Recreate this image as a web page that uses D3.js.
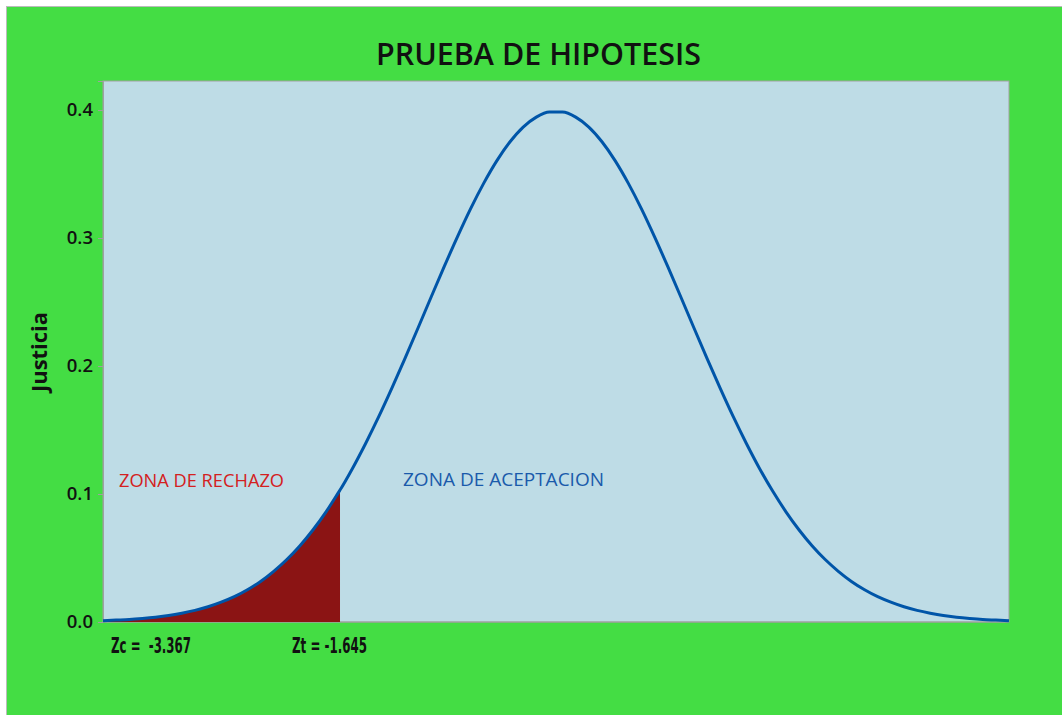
<!DOCTYPE html>
<html><head><meta charset="utf-8">
<script src="https://cdn.jsdelivr.net/npm/d3@7"></script>
<style>body{margin:0;background:#fff}svg{display:block}text{white-space:pre}</style>
</head><body><svg id="c" width="1062" height="715"></svg>
<script>
// Data
const zValues = [-3.45,-3.35,-3.25,-3.15,-3.05,-2.95,-2.85,-2.75,-2.65,-2.55,-2.45,-2.35,-2.25,-2.15,-2.05,-1.95,-1.85,-1.75,-1.65,-1.645,-1.55,-1.45,-1.35,-1.25,-1.15,-1.05,-0.95,-0.85,-0.75,-0.65,-0.55,-0.45,-0.35,-0.25,-0.15,-0.05,
  0.05,0.15,0.25,0.35,0.45,0.55,0.65,0.75,0.85,0.95,1.05,1.15,1.25,1.35,1.45,1.55,1.65,1.75,1.85,1.95,2.05,2.15,2.25,2.35,2.45,2.55,2.65,2.75,2.85,2.95,3.05,3.15,3.25,3.35,3.45];
const densityValues = [0.0010,0.0015,0.0020,0.0028,0.0038,0.0051,0.0069,0.0091,0.0119,0.0155,0.0198,0.0252,0.0317,0.0396,0.0488,0.0596,0.0721,0.0863,0.1023,0.1031,0.1200,0.1395,0.1604,0.1827,0.2060,0.2299,0.2541,0.2780,0.3011,0.3230,0.3429,0.3605,0.3752,0.3867,0.3945,0.3984,
  0.3984,0.3945,0.3867,0.3752,0.3605,0.3429,0.3230,0.3011,0.2780,0.2541,0.2299,0.2060,0.1827,0.1604,0.1395,0.1200,0.1023,0.0863,0.0721,0.0596,0.0488,0.0396,0.0317,0.0252,0.0198,0.0155,0.0119,0.0091,0.0069,0.0051,0.0038,0.0028,0.0020,0.0015,0.0010];
const yTicks = [0.0, 0.1, 0.2, 0.3, 0.4];
const zCritical = -1.645;
const zCalc = -3.367;
const titleText = "PRUEBA DE HIPOTESIS";
const yLabel = "Justicia";
const zoneLabels = ["ZONA DE RECHAZO", "ZONA DE ACEPTACION"];
const zLabels = ["Zc =  -3.367", "Zt = -1.645"];

const data = zValues.map((z, i) => ({z, d: densityValues[i]}));
const svg = d3.select("#c");
const L = 103, R = 1009, T = 81, B = 622;

// background
svg.append("rect").attr("x", 6.5).attr("y", 6.5).attr("width", 1070).attr("height", 720)
  .attr("fill", "#44DD44").attr("stroke", "#BBBBBB").attr("stroke-width", 1);
svg.append("rect").attr("x", L).attr("y", T).attr("width", R - L).attr("height", B - T)
  .attr("fill", "#BEDCE6").attr("stroke", "#A0A0A0").attr("stroke-width", 1);

const x = d3.scaleLinear().domain([-3.45, 3.45]).range([L, R]);
const y = d3.scaleLinear().domain([0, 0.4227]).range([B, T]);

// y axis
const yAxis = d3.axisLeft(y).tickValues(yTicks).tickFormat(d3.format(".1f")).tickSize(5).tickPadding(5);
const gy = svg.append("g").attr("transform", `translate(${L},0)`).call(yAxis);
gy.select(".domain").attr("stroke", "#A0A0A0");
gy.selectAll(".tick line").attr("stroke", "#A0A0A0");
gy.selectAll(".tick text").attr("font-family", "Open Sans").attr("font-size", 18.5).attr("font-weight", 600).attr("fill", "#111");
// x baseline
svg.append("line").attr("x1", L).attr("x2", R).attr("y1", y(0)).attr("y2", y(0)).attr("stroke", "#A0A0A0");

// rejection area
const rej = data.filter(d => d.z <= zCritical);
const area = d3.area().x(d => x(d.z)).y0(y(0)).y1(d => y(d.d));
svg.append("path").datum(rej).attr("d", area).attr("fill", "#8B1414");

// curve
const line = d3.line().x(d => x(d.z)).y(d => y(d.d)).curve(d3.curveMonotoneX);
svg.append("path").datum(data).attr("d", line).attr("fill", "none")
  .attr("stroke", "#0055A8").attr("stroke-width", 3);

// title
svg.append("text").attr("x", 538.5).attr("y", 65).attr("text-anchor", "middle")
  .attr("font-family", "Open Sans").attr("font-weight", 600).attr("font-size", 30.5).attr("fill", "#111")
  .attr("textLength", 325).attr("lengthAdjust", "spacingAndGlyphs").text(titleText);
// y label
svg.append("text").attr("transform", "translate(47,352) rotate(-90)").attr("text-anchor", "middle")
  .attr("font-family", "Open Sans").attr("font-weight", 700).attr("font-size", 21.5).attr("fill", "#111")
  .attr("textLength", 80).attr("lengthAdjust", "spacingAndGlyphs").text(yLabel);

// zone labels
svg.append("text").attr("x", 119).attr("y", 487).attr("font-family", "Open Sans").attr("font-size", 19)
  .attr("fill", "#D42020").attr("textLength", 165).attr("lengthAdjust", "spacingAndGlyphs").text(zoneLabels[0]);
svg.append("text").attr("x", 403).attr("y", 486).attr("font-family", "Open Sans").attr("font-size", 19)
  .attr("fill", "#1A5AAB").attr("textLength", 201).attr("lengthAdjust", "spacingAndGlyphs").text(zoneLabels[1]);

// z labels
svg.append("text").attr("x", 111).attr("y", 653).attr("font-family", "DejaVu Sans Condensed").attr("font-weight", 700)
  .attr("font-size", 22).attr("fill", "#111").attr("textLength", 80).attr("lengthAdjust", "spacingAndGlyphs").text(zLabels[0]);
svg.append("text").attr("x", 292).attr("y", 653).attr("font-family", "DejaVu Sans Condensed").attr("font-weight", 700)
  .attr("font-size", 22).attr("fill", "#111").attr("textLength", 75).attr("lengthAdjust", "spacingAndGlyphs").text(zLabels[1]);
</script></body></html>
